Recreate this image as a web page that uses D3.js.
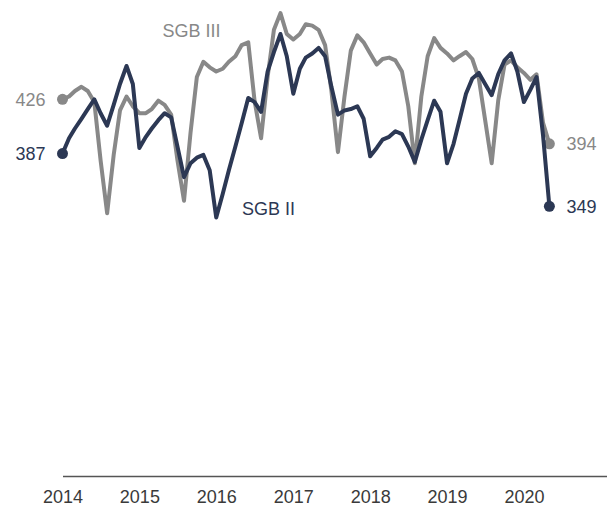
<!DOCTYPE html>
<html>
<head>
<meta charset="utf-8">
<script src="https://cdn.jsdelivr.net/npm/d3@7"></script>
<style>
  body { margin: 0; background: #fff; }
  svg { display: block; font-family: "Liberation Sans", Arial, sans-serif; }
</style>
</head>
<body>
<svg></svg>
<script>
// monthly values, Jan 2014 - May 2020
let months = d3.timeMonth.range(new Date(2014, 0, 1), new Date(2020, 5, 1))

let sgb2 = [387, 398, 405, 412, 419, 426, 416, 407, 422, 437, 450, 437,
            391, 399, 405, 411, 416, 413, 392, 370, 380, 384, 386, 375,
            341, 358, 375, 392, 409, 427, 424, 417, 446, 460, 473, 457,
            430, 448, 456, 459, 463, 457, 435, 415, 418, 419, 421, 412,
            385, 391, 397, 399, 403, 401, 392, 381, 397, 411, 425, 417,
            380, 394, 411, 430, 441, 445, 437, 429, 444, 454, 459, 446,
            424, 433, 442, 400, 349]

let sgb3 = [426, 428, 432, 435, 432, 424, 382, 344, 386, 418, 428, 421,
            416, 416, 419, 425, 422, 415, 382, 353, 402, 442, 453, 449,
            446, 448, 453, 457, 465, 467, 425, 398, 442, 476, 488, 473,
            469, 473, 480, 479, 476, 465, 432, 388, 428, 461, 472, 467,
            459, 451, 455, 456, 454, 446, 421, 380, 428, 457, 470, 463,
            459, 454, 457, 460, 455, 441, 411, 380, 425, 451, 454, 449,
            445, 440, 444, 409, 394]

let years = [2014, 2015, 2016, 2017, 2018, 2019, 2020]

let w = 607
let h = 507
let left = 62.5
let bottom = 476

let navy = "#2c3854"
let grey = "#888888"

let svg = d3.select("svg")
            .attr("width", w)
            .attr("height", h)

let xScale = d3.scaleTime()
               .domain([new Date(2014, 0, 1), new Date(2021, 1, 1)])
               .range([left, w + 0.5])

let yScale = d3.scaleLinear()
               .domain([155, 500])
               .range([bottom, bottom - 345 * 1.39])

let xAxis = d3.axisBottom(xScale)
              .tickValues(years.map((y) => new Date(y, 0, 1)))
              .tickFormat(d3.timeFormat("%Y"))
              .tickSize(0)
              .tickPadding(14)

let gx = svg.append("g")
            .attr("transform", "translate(0," + bottom + ")")
            .call(xAxis)

gx.select(".domain")
  .attr("stroke", "#555")
  .attr("stroke-width", 1.5)

gx.selectAll("text")
  .attr("font-size", 18)
  .attr("font-family", "Liberation Sans, Arial, sans-serif")
  .attr("fill", "#3a3a3a")

let line = d3.line()
             .x((d, i) => xScale(months[i]))
             .y((d) => yScale(d))

let series = [
  { name: "SGB III", values: sgb3, color: grey, labelAt: 20, labelVal: 471 },
  { name: "SGB II", values: sgb2, color: navy, labelAt: 32, labelVal: 343 }
]

series.forEach((s) => {
  let last = s.values.length - 1

  svg.append("path")
     .datum(s.values)
     .attr("fill", "none")
     .attr("stroke", s.color)
     .attr("stroke-width", 4)
     .attr("stroke-linejoin", "round")
     .attr("d", line)

  svg.selectAll(null)
     .data([0, last])
     .enter()
     .append("circle")
     .attr("cx", (i) => xScale(months[i]))
     .attr("cy", (i) => yScale(s.values[i]))
     .attr("r", 5.5)
     .attr("fill", s.color)

  // start / end values
  svg.append("text")
     .attr("x", xScale(months[0]) - 17)
     .attr("y", yScale(s.values[0]))
     .attr("dy", "0.36em")
     .attr("text-anchor", "end")
     .attr("font-size", 18)
     .attr("fill", s.color)
     .text(s.values[0])

  svg.append("text")
     .attr("x", xScale(months[last]) + 17)
     .attr("y", yScale(s.values[last]))
     .attr("dy", "0.36em")
     .attr("text-anchor", "start")
     .attr("font-size", 18)
     .attr("fill", s.color)
     .text(s.values[last])

  svg.append("text")
     .attr("x", xScale(months[s.labelAt]) + 1)
     .attr("y", yScale(s.labelVal))
     .attr("text-anchor", "middle")
     .attr("font-size", 18)
     .attr("fill", s.color)
     .text(s.name)
})
</script>
</body>
</html>
